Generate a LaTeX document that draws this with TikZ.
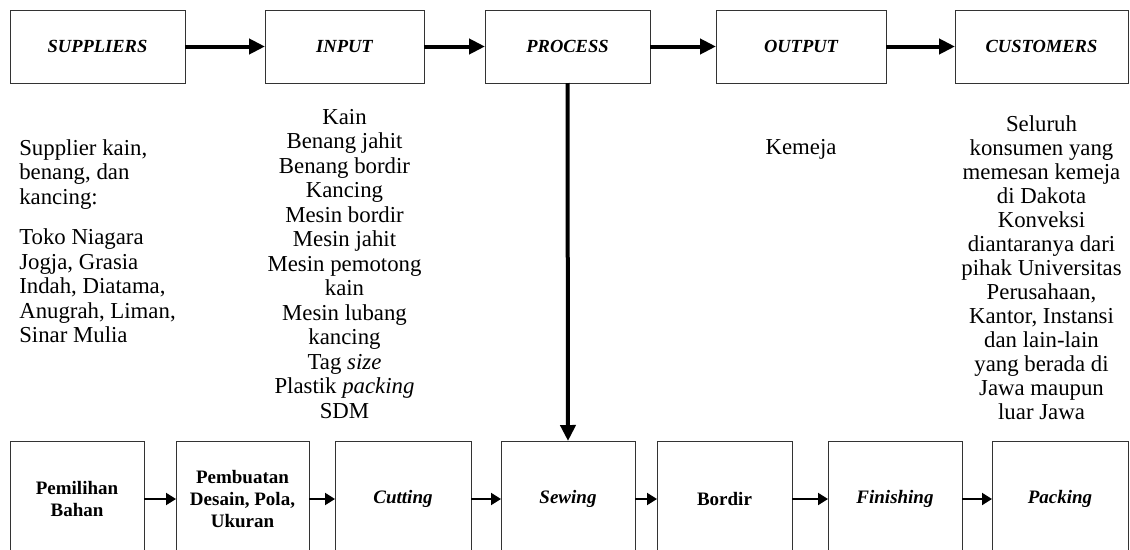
\documentclass[tikz,border=0pt]{standalone}
\usepackage{fontspec}
\setmainfont{Liberation Serif}
\usetikzlibrary{positioning,arrows.meta}

\begin{document}
\begin{tikzpicture}[x=1pt,y=-1pt,
    box/.style={draw=black!80, line width=1pt, outer sep=0pt, inner sep=0pt,
      minimum height=73pt, font=\fontsize{18.5}{21}\selectfont\bfseries\itshape},
    stage/.style={draw=black!80, line width=1pt, outer sep=0pt, inner sep=0pt,
      minimum height=116pt, align=center, font=\fontsize{19}{22}\selectfont\bfseries},
    note/.style={inner sep=0pt, font=\fontsize{22.8}{24.5}\selectfont},
    bigflow/.style={-{Triangle[length=16pt,width=15pt]}, line width=4pt},
    smallflow/.style={-{Triangle[length=10pt,width=12pt]}, line width=2pt}]
  \useasboundingbox (0,0) rectangle (1130,549);
  \clip (0,0) rectangle (1130,549);

  % SIPOC row
  \node[box, minimum width=175pt] (sup) at (97.5,46.5) {SUPPLIERS};
  \node[box, minimum width=159pt, right=80pt of sup] (inp) {INPUT};
  \node[box, minimum width=165pt, right=61pt of inp] (pro) {PROCESS};
  \node[box, minimum width=170pt, right=66pt of pro] (out) {OUTPUT};
  \node[box, minimum width=173pt, right=69pt of out] (cus) {CUSTOMERS};

  \node[note, align=left, below=56pt of sup] (suplist) {Supplier kain,\\benang, dan\\kancing:\\[16pt]
    Toko Niagara\\Jogja, Grasia\\Indah, Diatama,\\Anugrah, Liman,\\Sinar Mulia};
  \node[note, align=center, below=26pt of inp] (inplist) {Kain\\Benang jahit\\Benang bordir\\Kancing\\
    Mesin bordir\\Mesin jahit\\Mesin pemotong\\kain\\Mesin lubang\\kancing\\Tag \textit{size}\\
    Plastik \textit{packing}\\SDM};
  \node[note, below=56pt of out] (outlist) {Kemeja};
  \node[note, align=center, font=\fontsize{22.8}{24}\selectfont, below=32pt of cus] (cuslist) {Seluruh\\
    konsumen yang\\memesan kemeja\\di Dakota\\Konveksi\\diantaranya dari\\pihak Universitas\\
    Perusahaan,\\Kantor, Instansi\\dan lain-lain\\yang berada di\\Jawa maupun\\luar Jawa};

  % process steps
  \node[stage, minimum width=134pt] (pem) at (77,499) {Pemilihan\\Bahan};
  \node[stage, minimum width=133pt, right=32pt of pem] (pmb) {Pembuatan\\Desain, Pola,\\Ukuran};
  \node[stage, minimum width=136pt, right=26pt of pmb] (cut) {\textit{Cutting}};
  \node[stage, minimum width=134pt, right=30pt of cut] (sew) {\textit{Sewing}};
  \node[stage, minimum width=135pt, right=22pt of sew] (bor) {Bordir};
  \node[stage, minimum width=134pt, right=36pt of bor] (fin) {\textit{Finishing}};
  \node[stage, minimum width=136pt, right=30pt of fin] (pac) {\textit{Packing}};

  \draw[bigflow] (sup) -- (inp);
  \draw[bigflow] (inp) -- (pro);
  \draw[bigflow] (pro) -- (out);
  \draw[bigflow] (out) -- (cus);
  \draw[bigflow] (pro.south) -- (sew.north);

  \draw[smallflow] (pem) -- (pmb);
  \draw[smallflow] (pmb) -- (cut);
  \draw[smallflow] (cut) -- (sew);
  \draw[smallflow] (sew) -- (bor);
  \draw[smallflow] (bor) -- (fin);
  \draw[smallflow] (fin) -- (pac);
\end{tikzpicture}
\end{document}
